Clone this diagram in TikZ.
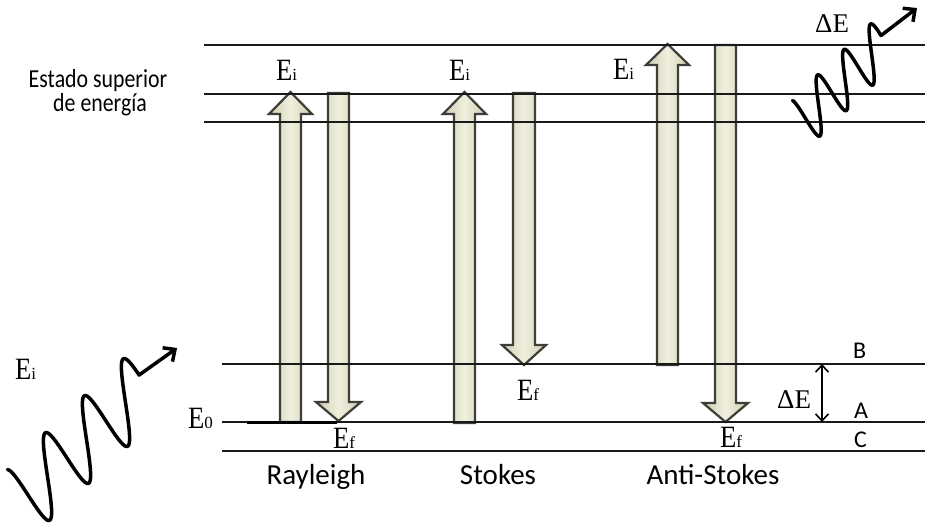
\documentclass[tikz,border=0pt]{standalone}
\usepackage{fontspec}
\usepackage{graphicx}
\setmainfont{Carlito}
\newfontfamily\serE{Liberation Serif}
\usetikzlibrary{arrows.meta}
\definecolor{arrowfill}{RGB}{240,240,222}
\definecolor{arrowedge}{RGB}{205,205,180}
\definecolor{arrowline}{RGB}{62,62,56}
\definecolor{lvl}{RGB}{25,25,25}
\newcommand\elab[1]{{\serE\fontsize{31}{31}\selectfont\scalebox{0.86}[1]{E}\fontsize{17}{17}\selectfont #1}}
\begin{document}
\begin{tikzpicture}[x=1pt,y=-1pt,
  level/.style={draw=lvl, line width=1.3pt},
  blockarrow/.style={draw=arrowline, line width=2.2pt, left color=arrowedge, right color=arrowedge, middle color=arrowfill, line join=miter},
  photon/.style={draw=black, line width=3.5pt, line join=round, line cap=round, -{Straight Barb[length=9pt,width=17pt]}},
  elabel/.style={anchor=base west, inner sep=0pt},
  sanslab/.style={font=\fontsize{24}{24}\selectfont, anchor=base west, inner sep=0pt},
  bottomlab/.style={font=\fontsize{29}{29}\selectfont, anchor=base, inner sep=0pt},
  deltalab/.style={font=\serE\fontsize{27}{27}\selectfont, anchor=base west, inner sep=0pt}]
\useasboundingbox (0,0) rectangle (925,525);
\fill[white] (0,0) rectangle (925,525);

% block arrows
\path[blockarrow] (280,422) -- (280,114) -- (269,114) -- (290.5,92) -- (312,114) -- (301,114) -- (301,422) -- cycle;
\path[blockarrow] (328,93) -- (349,93) -- (349,402) -- (361,402) -- (338.5,421) -- (316,402) -- (328,402) -- cycle;
\path[blockarrow] (454,423) -- (454,114) -- (443,114) -- (464.5,92) -- (486,114) -- (475,114) -- (475,423) -- cycle;
\path[blockarrow] (513,93) -- (535,93) -- (535,345) -- (546,345) -- (524,365) -- (502,345) -- (513,345) -- cycle;
\path[blockarrow] (657,365) -- (657,65) -- (646,65) -- (667.5,44) -- (689,65) -- (678,65) -- (678,365) -- cycle;
\path[blockarrow] (715,45) -- (736,45) -- (736,403) -- (748,403) -- (725.5,422) -- (703,403) -- (715,403) -- cycle;

% energy levels
\coordinate (u1a) at (204,45);  \coordinate (u1b) at (925,45);
\coordinate (u2a) at (204,94);  \coordinate (u2b) at (925,94);
\coordinate (u3a) at (204,122); \coordinate (u3b) at (925,122);
\coordinate (lBa) at (222,364); \coordinate (lBb) at (925,364);
\coordinate (lAa) at (222,422); \coordinate (lAb) at (925,422);
\coordinate (lCa) at (222,451); \coordinate (lCb) at (925,451);
\draw[level] (u1a) -- (u1b);
\draw[level] (u2a) -- (u2b);
\draw[level] (u3a) -- (u3b);
\draw[level] (lBa) -- (lBb);
\draw[level] (lAa) -- (lAb);
\draw[level] (lCa) -- (lCb);
\coordinate (g0a) at (247,422); \coordinate (g0b) at (337,422);
\draw[line width=3pt, black] (g0a) -- (g0b);

% Delta E double arrow
\coordinate (dTop) at (822,364); \coordinate (dBot) at (822,422);
\draw[line width=1.6pt, {Straight Barb[length=7pt,width=13pt]}-{Straight Barb[length=7pt,width=13pt]}] (dTop) -- (dBot);

% photons
\coordinate (wL) at (177,348);
\draw[photon] plot[domain=-0.22:2.95, samples=160, variable=\t] ({28+39*\t+12.25*sin(360*\t)},{495-37*\t+34.25*sin(360*\t)}) -- (wL);
\coordinate (wR) at (917,8);
\draw[photon] plot[domain=-0.2:2.95, samples=160, variable=\t] ({805.4+26.5*\t+8*sin(360*\t)},{118.25-25.5*\t+24*sin(360*\t)}) -- (wR);

% labels
\node[elabel] (eiR) at (276,80) {\elab{i}};
\node[elabel] (eiS) at (449,80) {\elab{i}};
\node[elabel] (eiA) at (613,79) {\elab{i}};
\node[elabel] (eiL) at (15,379) {\elab{i}};
\node[elabel] (e0) at (188,428) {\elab{0}};
\node[elabel] (efR) at (333,448) {\elab{f}};
\node[elabel] (efS) at (517,400) {\elab{f}};
\node[elabel] (efA) at (720,447) {\elab{f}};
\node[deltalab] (dE) at (777,408) {ΔE};
\node[deltalab] (dEtop) at (815,32) {ΔE};
\node[sanslab] (lB) at (853,358) {B};
\node[sanslab] (lA) at (854,418) {A};
\node[sanslab] (lC) at (854,447) {C};
\node[bottomlab] (ray) at (316,484) {Rayleigh};
\node[bottomlab] (sto) at (498,484) {Stokes};
\node[bottomlab] (ast) at (713,484) {Anti-Stokes};
\node[anchor=base, inner sep=0pt, font=\fontsize{26}{26}\selectfont] (es1) at (98,87) {\scalebox{0.84}[1]{Estado superior}};
\node[anchor=base, inner sep=0pt, font=\fontsize{26}{26}\selectfont] (es2) at (100,111) {\scalebox{0.84}[1]{de energía}};
\end{tikzpicture}
\end{document}
